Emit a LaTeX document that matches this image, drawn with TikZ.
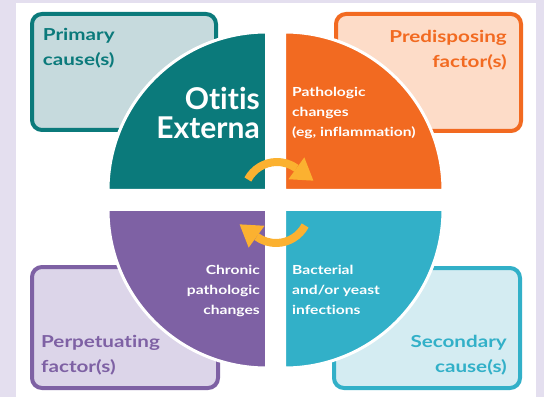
\documentclass[tikz,border=0pt]{standalone}
\usepackage{fontspec}
\usetikzlibrary{calc}
\setmainfont{Lato}[FakeStretch=1.25, Ligatures=NoCommon]
\newfontfamily\titlefont{Lato}[Ligatures=NoCommon]
\definecolor{bglav}{HTML}{E4DFEF}
\definecolor{teal1}{HTML}{0B7A7B}
\definecolor{tealbox}{HTML}{C6DADD}
\definecolor{orange1}{HTML}{F26A21}
\definecolor{orangebox}{HTML}{FDDCC8}
\definecolor{purple1}{HTML}{7E61A4}
\definecolor{purplebox}{HTML}{DCD5E9}
\definecolor{cyan1}{HTML}{32B0C8}
\definecolor{cyanbox}{HTML}{D4ECF2}
\definecolor{arrowcol}{HTML}{FBB130}
\tikzset{
  x=1pt,y=1pt,
  factorbox/.style={line width=4pt, rounded corners=10pt},
  quadrant/.style={draw=white, line width=3pt},
  bigtext/.style={inner sep=0pt, font=\bfseries\fontsize{16.5}{25}\selectfont},
  smalltext/.style={inner sep=0pt, font=\bfseries\fontsize{12.5}{20}\selectfont, text=white},
  titletext/.style={inner sep=0pt, font=\titlefont\bfseries\fontsize{30}{29}\selectfont, text=white},
  cyclearrow/.style={draw=arrowcol, line width=8pt},
}
\begin{document}
\begin{tikzpicture}
\useasboundingbox (0,0) rectangle (544,397);
\fill[bglav] (0,0) rectangle (544,397);
\fill[white] (16,0) rectangle (536,394);
% factor boxes
\draw[factorbox, draw=teal1, fill=tealbox] (32,267) rectangle (216,383);
\draw[factorbox, draw=orange1, fill=orangebox] (336,266) rectangle (521,383);
\draw[factorbox, draw=purple1, fill=purplebox] (32,9) rectangle (218,130);
\draw[factorbox, draw=cyan1, fill=cyanbox] (334,9) rectangle (520,129);
% quadrants
\filldraw[quadrant, fill=teal1] (266.5,206.5) -- ++(-158.5,0) arc (180:90:158.5) -- cycle;
\filldraw[quadrant, fill=orange1] (284.5,206.5) -- ++(0,158.5) arc (90:0:158.5) -- cycle;
\filldraw[quadrant, fill=purple1] (266.5,187.5) -- ++(0,-158.5) arc (270:180:158.5) -- cycle;
\filldraw[quadrant, fill=cyan1] (284.5,187.5) -- ++(158.5,0) arc (0:-90:158.5) -- cycle;
% texts (anchor = baseline of the last line)
\node[bigtext, text=teal1, align=left, anchor=base west] (primary) at (42.7,331) {Primary\\cause(s)};
\node[bigtext, text=orange1, align=right, anchor=base east] (predis) at (507,329) {Predisposing\\factor(s)};
\node[bigtext, text=purple1, align=left, anchor=base west] (perpet) at (41,25) {Perpetuating\\factor(s)};
\node[bigtext, text=cyan1, align=right, anchor=base east] (second) at (507,25) {Secondary\\cause(s)};
\node[titletext, align=right, anchor=base east] (title) at (260,258) {Otitis\\Externa};
\node[smalltext, align=left, anchor=base west] (patho) at (292,260) {Pathologic\\changes\\(eg, inflammation)};
\node[smalltext, align=right, anchor=base east] (chronic) at (260,83) {Chronic\\pathologic\\changes};
\node[smalltext, align=left, anchor=base west] (bact) at (292,83) {Bacterial\\and/or yeast\\infections};
% cycle arrows
\begin{scope}[shift={(277,202)}]
  \draw[cyclearrow] (152:33) arc (152:54:33);
  \fill[arrowcol] (54:19.5) -- (54:46.5) -- ($(54:33)+(-36:21)$) -- cycle;
\end{scope}
\begin{scope}[shift={(276,187)}, rotate=180]
  \draw[cyclearrow] (152:33) arc (152:54:33);
  \fill[arrowcol] (54:19.5) -- (54:46.5) -- ($(54:33)+(-36:21)$) -- cycle;
\end{scope}
\end{tikzpicture}
\end{document}
